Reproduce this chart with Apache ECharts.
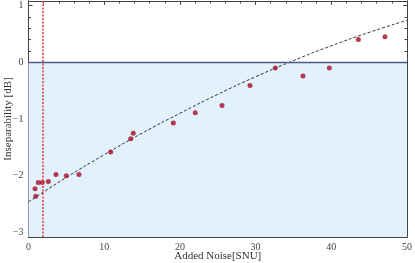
<!DOCTYPE html>
<html><head><meta charset="utf-8">
<script src="https://cdn.jsdelivr.net/npm/echarts@6/dist/echarts.min.js"></script>
<style>html,body{margin:0;padding:0;background:#fff}#c{width:415px;height:263px}</style>
</head><body><div id="c"></div>
<script>
// Measured points: added noise [SNU] and inseparability [dB]
const noiseX = [0.86, 0.95, 1.29, 1.82, 2.62, 3.63, 4.99, 6.67, 10.86, 13.5, 13.84, 19.13, 22.03, 25.56, 29.26, 32.6, 36.26, 39.74, 43.57, 47.09];
const insepY = [-2.23, -2.36, -2.12, -2.12, -2.10, -1.98, -2.00, -1.98, -1.58, -1.35, -1.25, -1.07, -0.89, -0.76, -0.41, -0.10, -0.24, -0.10, 0.40, 0.45];
// Dashed fit curve
const fitX = [0, 5, 10, 15, 20, 25, 30, 35, 40, 45, 50];
const fitY = [-2.46, -2.03, -1.63, -1.25, -0.90, -0.565, -0.255, 0.03, 0.29, 0.527, 0.74];
// Vertical marker line
const markerX = 1.9;
// Tick labels
const yMajor = [-3, -2, -1, 0, 1];
const yMinor = [-3, -2.8, -2.6, -2.4, -2.2, -2, -1.8, -1.6, -1.4, -1.2, -1, -0.8, -0.6, -0.4, -0.2, 0, 0.2, 0.4, 0.6, 0.8, 1];
const yMin = -3.08, yMax = 1.08;

const font = 'Liberation Serif';
function xAx(pos, labels) {
  return {type: 'value', position: pos, min: 0, max: 50, interval: 10,
    axisLine: {show: true, onZero: false, lineStyle: {color: '#444', width: 1}},
    axisTick: {show: true, inside: true, length: 4, lineStyle: {color: '#444'}},
    minorTick: {show: true, splitNumber: 5, length: 2.5, lineStyle: {color: '#444'}},
    splitLine: {show: false},
    axisLabel: {show: labels, color: '#444', fontFamily: font, fontSize: 10, margin: 5},
    name: labels ? 'Added Noise[SNU]' : '', nameLocation: 'middle', nameGap: 14, nameMoveOverlap: false,
    nameTextStyle: {fontFamily: font, fontSize: 11, color: '#333', verticalAlign: 'top'}
  };
}
function yAx(pos, vals, len, labels, name) {
  return {type: 'value', position: pos, min: yMin, max: yMax,
    axisLine: {show: true, onZero: false, lineStyle: {color: '#444', width: 1}},
    axisTick: {show: true, inside: true, length: len, customValues: vals, lineStyle: {color: '#444'}},
    splitLine: {show: false},
    axisLabel: {show: labels, customValues: yMajor, color: '#444', fontFamily: font, fontSize: 10, margin: 5,
      formatter: v => (v < 0 ? '\u2212' + (-v) : '' + v)},
    name: name || '', nameLocation: 'middle', nameGap: 15, nameMoveOverlap: false,
    nameTextStyle: {fontFamily: font, fontSize: 11, color: '#333'}
  };
}
const chart = echarts.init(document.getElementById('c'), null, {renderer: 'canvas'});
chart.setOption({
  animation: false,
  grid: {left: 28.5, right: 8, top: 1, bottom: 26, containLabel: false, outerBoundsMode: 'none'},
  xAxis: [xAx('bottom', true), xAx('top', false)],
  yAxis: [
    yAx('left', yMajor, 4, true, 'Inseparability [dB]'),
    yAx('left', yMinor, 2.5, false),
    yAx('right', yMajor, 4, false),
    yAx('right', yMinor, 2.5, false)
  ],
  series: [
    {type: 'line', data: [], xAxisIndex: 0, yAxisIndex: 0,
      markArea: {silent: true, itemStyle: {color: '#e3f0fd'},
        data: [[{yAxis: yMin}, {yAxis: 0}]]},
      markLine: {silent: true, symbol: 'none', label: {show: false},
        data: [
          {yAxis: 0, lineStyle: {color: '#4b5a8c', width: 1.3, type: 'solid'}},
          {xAxis: markerX, lineStyle: {color: '#e8343e', width: 1.5, type: [2, 1.5]}}
        ]}
    },
    {type: 'line', xAxisIndex: 0, yAxisIndex: 0, data: fitX.map((x, i) => [x, fitY[i]]),
      smooth: true, showSymbol: false, symbol: 'none',
      lineStyle: {color: '#333', width: 1, type: [3, 2]}, z: 3},
    {type: 'scatter', xAxisIndex: 0, yAxisIndex: 0, data: noiseX.map((x, i) => [x, insepY[i]]),
      symbolSize: 5, itemStyle: {color: '#a80d25'}, z: 4}
  ]
});
</script></body></html>
